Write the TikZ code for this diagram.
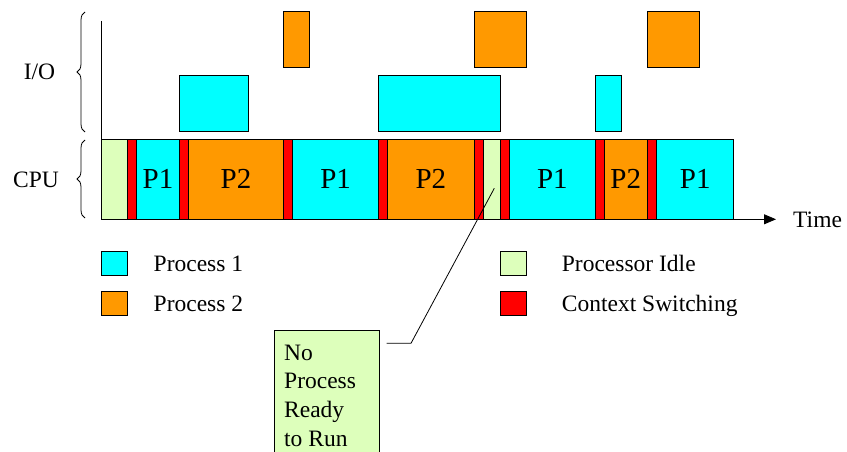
\documentclass[tikz,border=0pt]{standalone}
\usepackage{fontspec}
\setmainfont{Liberation Serif}
\usetikzlibrary{arrows.meta,decorations.pathreplacing}
\definecolor{pone}{RGB}{0,255,255}
\definecolor{ptwo}{RGB}{255,153,0}
\definecolor{idle}{RGB}{221,255,187}
\definecolor{ctx}{RGB}{255,0,0}

\tikzset{
  box/.style={draw=black, line width=0.8pt, inner sep=0pt, outer sep=0pt, anchor=north west},
  lbl/.style={inner sep=0pt, font=\fontsize{23.5}{28}\selectfont},
  plbl/.style={font=\fontsize{29}{32}\selectfont},
  grp/.style={decorate, decoration={brace, amplitude=8pt, mirror}, line width=0.8pt},
}
% CPU timeline segment: name, left x, right x, colour, label
\newcommand\cpuseg[5]{%
  \node[box, fill=#4, minimum width={(#3-#2)*1pt}, minimum height=80pt, plbl] (#1) at (#2,139.3) {\raisebox{-2.5pt}{#5}};}
% I/O burst: name, left x, right x, top y, bottom y, colour
\newcommand\iobox[6]{%
  \node[box, fill=#6, minimum width={(#3-#2)*1pt}, minimum height={(#5-#4)*1pt}] (#1) at (#2,#4) {};}
% legend swatch: name, left x, top y, colour
\newcommand\swatch[4]{%
  \node[box, fill=#4, minimum width=26.5pt, minimum height=24pt] (#1) at (#2,#3) {};}

\begin{document}
\begin{tikzpicture}[x=1pt, y=-1pt]
\useasboundingbox (0,0) rectangle (847,452);
\clip (0,0) rectangle (847,452);

% row labels and braces
\node[lbl] (iolbl) at (39.5,72) {I/O};
\node[lbl] (cpulbl) at (36,180) {CPU};
\draw[grp] (85,12) -- (85,132);
\draw[grp] (85,140) -- (85,218);

% I/O bursts
\iobox{io1}{179.3}{248.7}{75.3}{131}{pone}
\iobox{io2}{283.3}{309.7}{11}{67.3}{ptwo}
\iobox{io3}{378.7}{500.3}{75.3}{131}{pone}
\iobox{io4}{474}{526.3}{11}{67.3}{ptwo}
\iobox{io5}{595.7}{621.3}{75.3}{131}{pone}
\iobox{io6}{647.3}{699.7}{11}{67.3}{ptwo}

% CPU timeline
\cpuseg{s1}{101}{127.3}{idle}{}
\cpuseg{s2}{127.3}{136.7}{ctx}{}
\cpuseg{s3}{136.7}{179.3}{pone}{P1}
\cpuseg{s4}{179.3}{188.7}{ctx}{}
\cpuseg{s5}{188.7}{283.3}{ptwo}{P2}
\cpuseg{s6}{283.3}{292.5}{ctx}{}
\cpuseg{s7}{292.5}{378.7}{pone}{P1}
\cpuseg{s8}{378.7}{387.7}{ctx}{}
\cpuseg{s9}{387.7}{474}{ptwo}{P2}
\cpuseg{s10}{474}{483}{ctx}{}
\cpuseg{s11}{483}{500}{idle}{}
\cpuseg{s12}{500}{509}{ctx}{}
\cpuseg{s13}{509}{595.7}{pone}{P1}
\cpuseg{s14}{595.7}{604.3}{ctx}{}
\cpuseg{s15}{604.3}{647.3}{ptwo}{P2}
\cpuseg{s16}{647.3}{656.7}{ctx}{}
\cpuseg{s17}{656.7}{733.7}{pone}{P1}

% axes
\coordinate (origin) at (101,219.3);
\coordinate (ytop) at (101,21);
\coordinate (xend) at (776,219.3);
\draw[line width=0.8pt] (ytop) -- (origin);
\draw[line width=0.8pt, -{Triangle[length=12pt,width=10pt]}] (origin) -- (xend);
\node[lbl, anchor=west] (timelbl) at (793,219.5) {Time};

% legend
\swatch{k1}{101}{251}{pone}
\swatch{k2}{101}{291}{ptwo}
\swatch{k3}{500}{251}{idle}
\swatch{k4}{500}{291}{ctx}
\node[lbl, anchor=base west] (t1) at (153.5,271.7) {Process 1};
\node[lbl, anchor=base west] (t2) at (153.5,311) {Process 2};
\node[lbl, anchor=base west] (t3) at (561.7,271.7) {Processor Idle};
\node[lbl, anchor=base west] (t4) at (561.7,311) {Context Switching};

% callout
\node[box, fill=idle, minimum width=104.3pt, minimum height=140pt] (note) at (274.7,330.7) {};
\node[lbl, anchor=base west] (n1) at (284,360) {No};
\node[lbl, anchor=base west] (n2) at (284,388.7) {Process};
\node[lbl, anchor=base west] (n3) at (284,417.5) {Ready};
\node[lbl, anchor=base west] (n4) at (284,446.5) {to Run};
\coordinate (leadstart) at (386.7,343.3);
\coordinate (elbow) at (411,343.3);
\coordinate (idlept) at (494.3,188.3);
\draw[line width=0.8pt] (leadstart) -- (elbow) -- (idlept);
\end{tikzpicture}
\end{document}
